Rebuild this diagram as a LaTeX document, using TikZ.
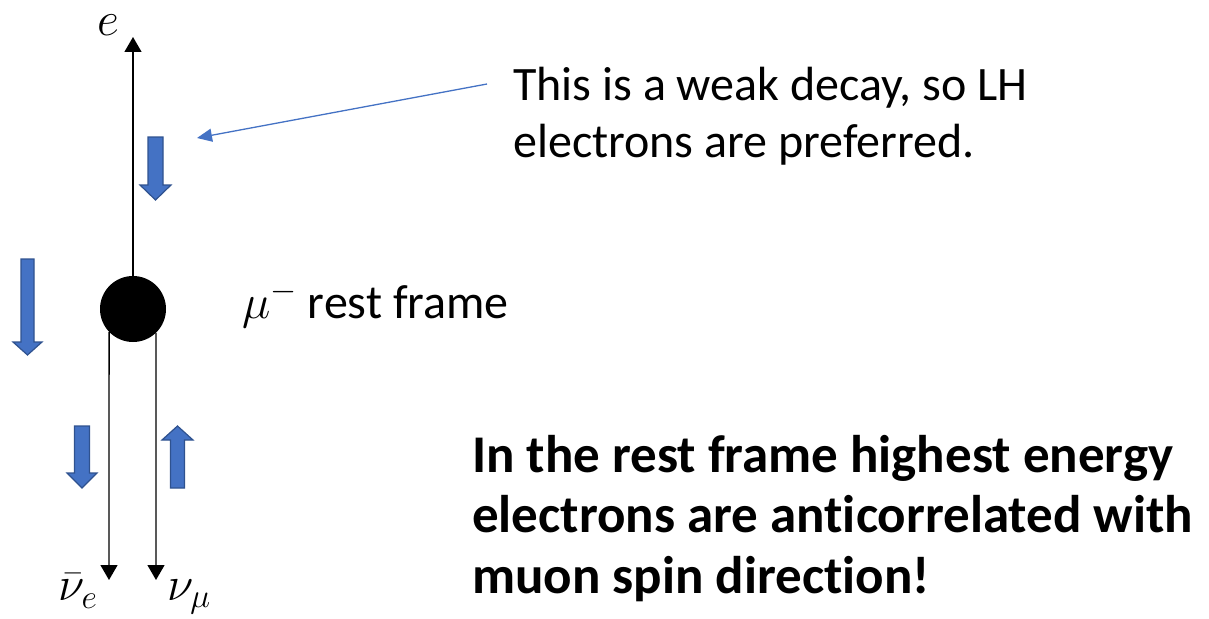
\RequirePackage{fix-cm}
\documentclass[tikz,border=0pt]{standalone}
\usepackage{fontspec}
\setmainfont{Carlito}[Ligatures=NoCommon]
\usetikzlibrary{arrows.meta}

\definecolor{spinblue}{HTML}{4472C4}
\definecolor{spinedge}{HTML}{2F528F}

\tikzset{
  spinarrow/.style={fill=spinblue, draw=spinedge, line width=1.2pt},
  track/.style={line width=1.3pt, -{Triangle[length=15pt,width=17pt]}},
  pointer/.style={draw=spinblue, line width=1.3pt, -{Triangle[length=15pt,width=13pt]}},
  lbl/.style={inner sep=0pt, font=\fontsize{48}{57}\selectfont},
  note/.style={anchor=base west, inner sep=0pt, align=left, font=\fontsize{48}{57}\selectfont},
}

% block arrow: centre x, tail y, head base y, tip y, half shaft, half head
\newcommand{\spinarrow}[6]{%
  \draw[spinarrow] (#1-#5,#2) -- (#1+#5,#2) -- (#1+#5,#3) -- (#1+#6,#3)
    -- (#1,#4) -- (#1-#6,#3) -- (#1-#5,#3) -- cycle;}

\begin{document}
\begin{tikzpicture}[x=1pt, y=-1pt]
    \useasboundingbox (0,0) rectangle (1209,618);

    % Draw nodes
    \node[circle, fill=black, minimum size=66pt, inner sep=0pt] (mu) at (133,309) {};
    \coordinate (etip) at (133,37);
    \coordinate (nuetip) at (109,580);
    \coordinate (numutip) at (156,580);

    % Draw connections
    \draw[track] (mu.north) -- (etip);
    \draw[track] (mu.-136) -- (nuetip);
    \draw[track] (mu.-46) -- (numutip);

    % Spins
    \spinarrow{155.5}{137}{185}{200}{7.5}{15.5}
    \spinarrow{27.5}{259}{342}{355}{6.5}{14.5}
    \spinarrow{82}{426}{473}{488}{7.5}{15}
    \spinarrow{177.5}{488}{440}{426}{7}{15.5}

    % Labels
    \node[lbl] (e) at (108,25) {$e$};
    \node[lbl] (nue) at (78,591) {$\bar{\nu}_e$};
    \node[lbl] (numu) at (189,597) {$\nu_\mu$};
    \node[note] (murest) at (242,318) {$\mu^-$ rest frame};

    % Notes
    \coordinate (ptrfrom) at (487,84);
    \coordinate (ptrto) at (197,138);
    \draw[pointer] (ptrfrom) -- (ptrto);
    \node[note] (weak) at (513,157) {This is a weak decay, so LH\\electrons are preferred.};
    \node[note, font=\fontsize{53}{60.5}\selectfont\bfseries] (claim) at (472,593)
        {In the rest frame highest energy\\electrons are anticorrelated with\\muon spin direction!};
\end{tikzpicture}
\end{document}
